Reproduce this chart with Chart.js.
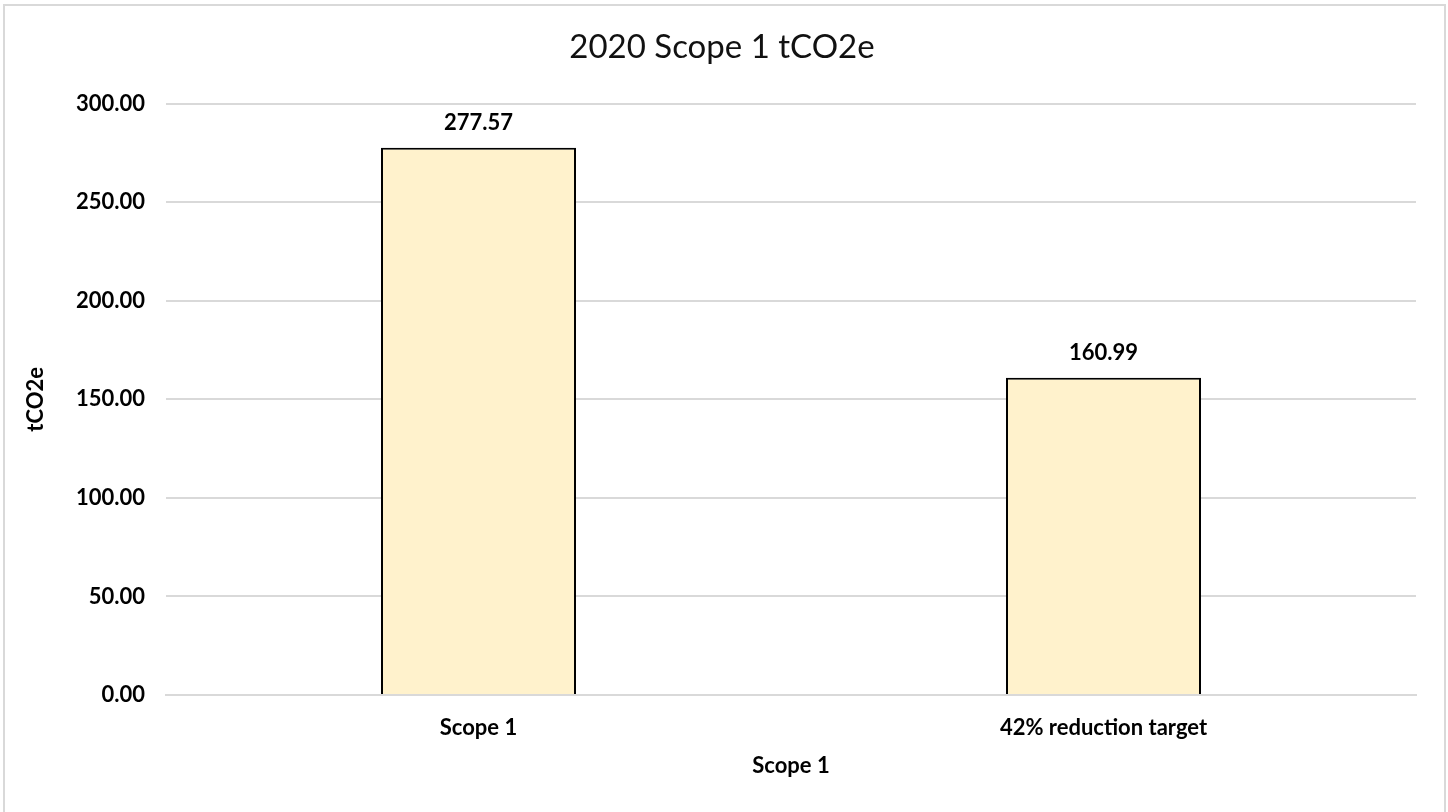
<!DOCTYPE html>
<html>
<head>
<meta charset="utf-8">
<script src="https://cdn.jsdelivr.net/npm/chart.js@4/dist/chart.umd.min.js"></script>
<style>
  html, body { margin: 0; padding: 0; background: #ffffff; }
  #wrap { position: relative; width: 1448px; height: 812px; }
</style>
</head>
<body>
<div id="wrap"><canvas id="c" width="1448" height="812"></canvas></div>
<script>
const categories = ["Scope 1", "42% reduction target"];
const values = [277.57, 160.99];
const yTicks = [0, 50, 100, 150, 200, 250, 300];
const chartTitle = "2020 Scope 1 tCO2e";
const xTitle = "Scope 1";
const yTitle = "tCO2e";

const FONT = "Lato, 'Open Sans', sans-serif";

const frame = {
  id: 'frame',
  beforeDraw(chart) {
    const ctx = chart.ctx;
    ctx.save();
    ctx.fillStyle = '#ffffff';
    ctx.fillRect(0, 0, chart.width, chart.height);
    ctx.strokeStyle = '#d9d9d9';
    ctx.lineWidth = 2;
    ctx.strokeRect(4, 5, 1441, 820);
    ctx.restore();
  }
};

const valueLabels = {
  id: 'valueLabels',
  afterDatasetsDraw(chart) {
    const ctx = chart.ctx;
    ctx.save();
    ctx.font = "bold 22px " + FONT;
    ctx.fillStyle = '#000000';
    ctx.textAlign = 'center';
    ctx.textBaseline = 'middle';
    chart.getDatasetMeta(0).data.forEach((bar, i) => {
      const v = chart.data.datasets[0].data[i];
      ctx.fillText(v.toFixed(2), bar.x, bar.y - 25);
    });
    ctx.restore();
  }
};

new Chart(document.getElementById('c'), {
  type: 'bar',
  data: {
    labels: categories,
    datasets: [{
      data: values,
      backgroundColor: '#fff2cc',
      borderColor: '#000000',
      borderWidth: 2,
      barPercentage: 0.312,
      categoryPercentage: 1.0
    }]
  },
  options: {
    responsive: false,
    animation: false,
    devicePixelRatio: 1,
    layout: { padding: { left: 28, right: 32, top: 0, bottom: 0 } },
    plugins: {
      legend: { display: false },
      tooltip: { enabled: false },
      title: {
        display: true,
        text: chartTitle,
        color: '#111111',
        font: { family: FONT, size: 33, weight: 'normal' },
        padding: { top: 28, bottom: 36 }
      }
    },
    scales: {
      x: {
        grid: { display: false },
        border: { display: true, color: '#d9d9d9', width: 2 },
        ticks: {
          color: '#000000',
          font: { family: FONT, size: 22, weight: 'bold' },
          padding: 12,
          maxRotation: 0
        },
        title: {
          display: true,
          text: xTitle,
          color: '#000000',
          font: { family: FONT, size: 22, weight: 'bold' },
          padding: { top: 0, bottom: 33 }
        },
        afterFit(axis) { axis.height = 117; }
      },
      y: {
        min: 0,
        max: 300,
        afterBuildTicks(axis) { axis.ticks = yTicks.map(v => ({ value: v })); },
        grid: { color: '#d9d9d9', lineWidth: 2, drawTicks: false },
        border: { display: false },
        ticks: {
          color: '#000000',
          font: { family: FONT, size: 22, weight: 'bold' },
          padding: 21,
          callback: (v) => Number(v).toFixed(2)
        },
        title: {
          display: true,
          text: yTitle,
          color: '#000000',
          font: { family: FONT, size: 22, weight: 'bold' },
          padding: { top: -5, bottom: 0 }
        },
        afterFit(axis) { axis.width = 138; }
      }
    }
  },
  plugins: [frame, valueLabels]
});
</script>
</body>
</html>
